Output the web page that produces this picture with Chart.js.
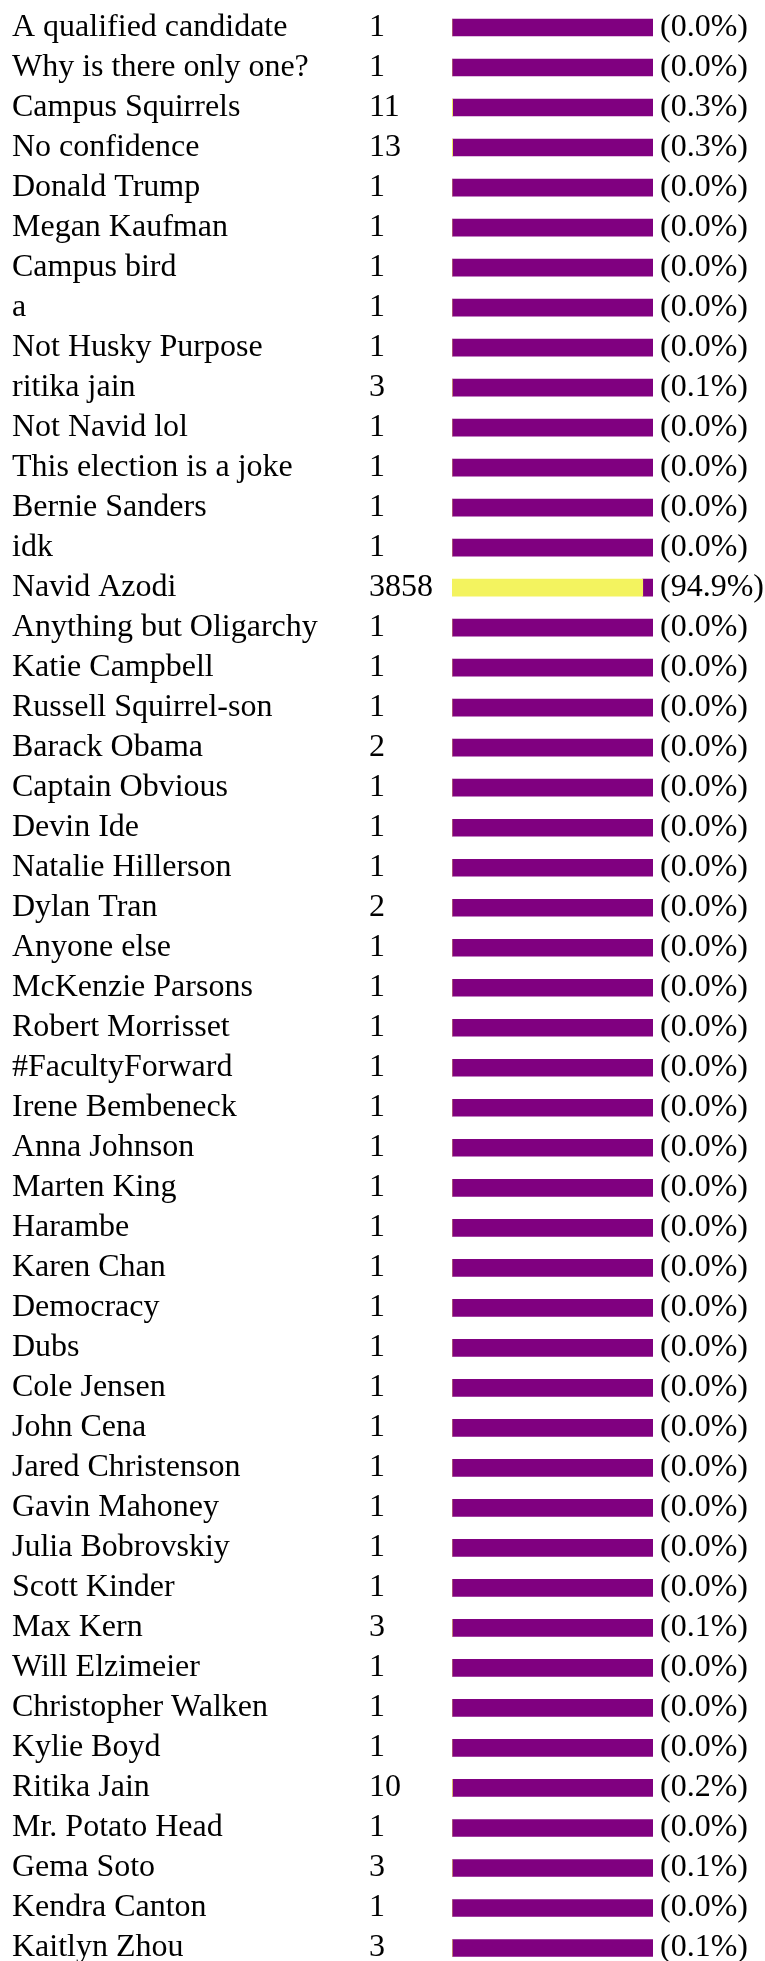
<!DOCTYPE html>
<html>
<head>
<meta charset="utf-8">
<script src="https://cdn.jsdelivr.net/npm/chart.js@4.4.1/dist/chart.umd.min.js"></script>
<style>
  html, body { margin: 0; padding: 0; background: #fff; overflow: hidden; }
  #wrap { position: relative; width: 765px; height: 1968px; }
</style>
</head>
<body>
<div id="wrap"><canvas id="chart"></canvas></div>
<script>
// === Data ===
const names = [
    "A qualified candidate", "Why is there only one?", "Campus Squirrels", "No confidence",
    "Donald Trump", "Megan Kaufman", "Campus bird", "a", "Not Husky Purpose", "ritika jain",
    "Not Navid lol", "This election is a joke", "Bernie Sanders", "idk", "Navid Azodi",
    "Anything but Oligarchy", "Katie Campbell", "Russell Squirrel-son", "Barack Obama",
    "Captain Obvious", "Devin Ide", "Natalie Hillerson", "Dylan Tran", "Anyone else",
    "McKenzie Parsons", "Robert Morrisset", "#FacultyForward", "Irene Bembeneck",
    "Anna Johnson", "Marten King", "Harambe", "Karen Chan", "Democracy", "Dubs",
    "Cole Jensen", "John Cena", "Jared Christenson", "Gavin Mahoney", "Julia Bobrovskiy",
    "Scott Kinder", "Max Kern", "Will Elzimeier", "Christopher Walken", "Kylie Boyd",
    "Ritika Jain", "Mr. Potato Head", "Gema Soto", "Kendra Canton", "Kaitlyn Zhou"
];

const votes = [
    1, 1, 11, 13, 1, 1, 1, 1, 1, 3,
    1, 1, 1, 1, 3858, 1, 1, 1, 2, 1,
    1, 1, 2, 1, 1, 1, 1, 1, 1, 1,
    1, 1, 1, 1, 1, 1, 1, 1, 1, 1,
    3, 1, 1, 1, 10, 1, 3, 1, 3
];

const percents = [
    0.0, 0.0, 0.3, 0.3, 0.0, 0.0, 0.0, 0.0, 0.0, 0.1,
    0.0, 0.0, 0.0, 0.0, 94.9, 0.0, 0.0, 0.0, 0.0, 0.0,
    0.0, 0.0, 0.0, 0.0, 0.0, 0.0, 0.0, 0.0, 0.0, 0.0,
    0.0, 0.0, 0.0, 0.0, 0.0, 0.0, 0.0, 0.0, 0.0, 0.0,
    0.1, 0.0, 0.0, 0.0, 0.2, 0.0, 0.1, 0.0, 0.1
];

const remainder = percents.map(p => 100 - p);

const FONT = "'Liberation Serif', 'Times New Roman', serif";

// vote count + percentage columns
const columnText = {
    id: "columnText",
    afterDatasetsDraw(chart) {
        const ctx = chart.ctx;
        const y = chart.scales.y;
        const x = chart.scales.x;
        ctx.save();
        ctx.font = "32px " + FONT;
        ctx.fillStyle = "#000";
        ctx.textBaseline = "middle";
        ctx.textAlign = "left";
        names.forEach((n, i) => {
            const py = y.getPixelForValue(i);
            ctx.fillText(String(votes[i]), 369, py);
            ctx.fillText("(" + percents[i].toFixed(1) + "%)", x.right + 7, py);
        });
        ctx.restore();
    }
};

new Chart(document.getElementById("chart"), {
    type: "bar",
    data: {
        labels: names,
        datasets: [
            {
                data: percents,
                backgroundColor: "#f3f35f",
                barThickness: 17,
                stack: "s",
            },
            {
                data: remainder,
                backgroundColor: "#800080",
                barThickness: 17,
                stack: "s",
            },
        ],
    },
    options: {
        responsive: true,
        maintainAspectRatio: false,
        devicePixelRatio: 1,
        animation: false,
        indexAxis: "y",
        layout: { padding: { left: 12, right: 112, top: 7.5, bottom: 0 } },
        scales: {
            x: { display: false, stacked: true, min: 0, max: 100 },
            y: {
                stacked: true,
                grid: { display: false },
                border: { display: false },
                afterFit: s => {
                    s.width = 440;
                    s.paddingTop = 0;
                    s.paddingBottom = 0;
                },
                ticks: {
                    autoSkip: false,
                    crossAlign: "far",
                    padding: 0,
                    color: "#000",
                    font: { family: FONT, size: 32 },
                },
            },
        },
        plugins: {
            legend: { display: false },
            tooltip: { enabled: false },
        },
    },
    plugins: [columnText],
});
</script>
</body>
</html>
